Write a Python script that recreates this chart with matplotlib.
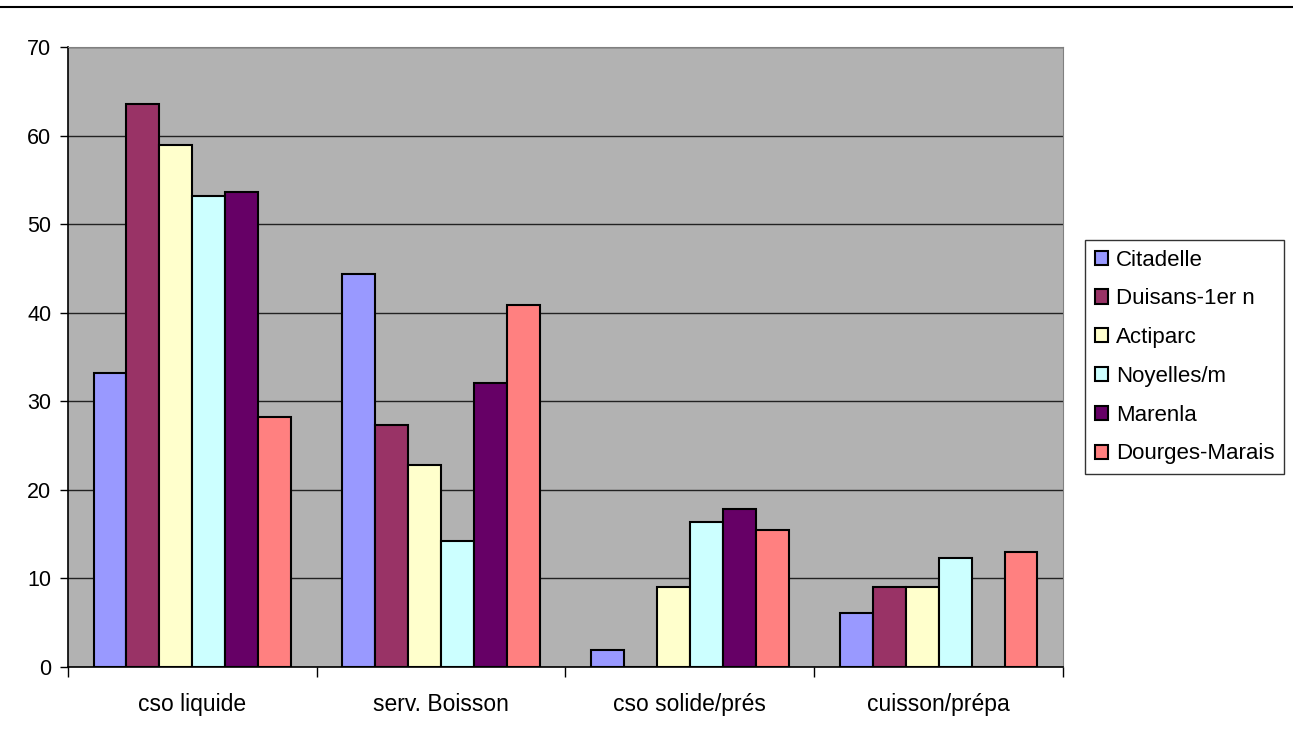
import numpy as np
import matplotlib

matplotlib.use("Agg")
import matplotlib.pyplot as plt
from matplotlib.lines import Line2D

plt.rcParams["font.family"] = ["Liberation Sans", "DejaVu Sans"]

categories = ["cso liquide", "serv. Boisson", "cso solide/prés", "cuisson/prépa"]
series_names = ["Citadelle", "Duisans-1er n", "Actiparc", "Noyelles/m", "Marenla", "Dourges-Marais"]
series_colors = ["#9999FF", "#993366", "#FFFFCC", "#CCFFFF", "#660066", "#FF8080"]

citadelle = [33.2, 44.4, 1.9, 6.1]
duisans = [63.6, 27.3, 0.0, 9.0]
actiparc = [58.9, 22.8, 9.0, 9.0]
noyelles = [53.2, 14.2, 16.4, 12.3]
marenla = [53.6, 32.1, 17.8, 0.0]
dourges = [28.2, 40.9, 15.5, 13.0]

values = [citadelle, duisans, actiparc, noyelles, marenla, dourges]

fig = plt.figure(figsize=(12.93, 7.36), dpi=100)
ax = fig.add_axes([0.0526, 0.0938, 0.7695, 0.8424])
ax.set_facecolor("#B2B2B2")

bar_w = 0.1325
x = np.arange(len(categories))
offsets = (np.arange(len(series_names)) - 2.5) * bar_w
for vals, name, col, off in zip(values, series_names, series_colors, offsets):
    ax.bar(x + off, vals, width=bar_w, color=col, edgecolor="black",
           linewidth=1.5, label=name, zorder=3)

ax.set_xlim(-0.5, len(categories) - 0.5)
ax.set_ylim(0, 70)
ax.set_yticks(np.arange(0, 71, 10))
ax.yaxis.grid(True, color="#222222", linewidth=1.0, zorder=0)
ax.set_axisbelow(True)

ax.set_xticks(x)
ax.set_xticklabels(categories, fontsize=16.5)
ax.tick_params(axis="x", length=0, pad=19)
ax.set_xticks(np.arange(-0.5, len(categories), 1.0), minor=True)
ax.tick_params(axis="x", which="minor", length=7, width=1, direction="out")
ax.tick_params(axis="y", labelsize=15.5, length=6, width=1, direction="out", pad=6)

for side in ["top", "right"]:
    ax.spines[side].set_color("#808080")
for side in ["left", "bottom"]:
    ax.spines[side].set_color("black")
    ax.spines[side].set_linewidth(1.2)

leg = ax.legend(loc="center left", bbox_to_anchor=(1.022, 0.5), fontsize=16,
                frameon=True, fancybox=False, edgecolor="black",
                handlelength=0.6, handleheight=0.6, handletextpad=0.35,
                labelspacing=0.8, borderpad=0.45, borderaxespad=0)
leg.get_frame().set_linewidth(1.0)

fig.add_artist(Line2D([0.0, 1.0], [0.9905, 0.9905], color="black",
                      linewidth=1.5, transform=fig.transFigure))

fig.savefig("out.png", dpi=100)
